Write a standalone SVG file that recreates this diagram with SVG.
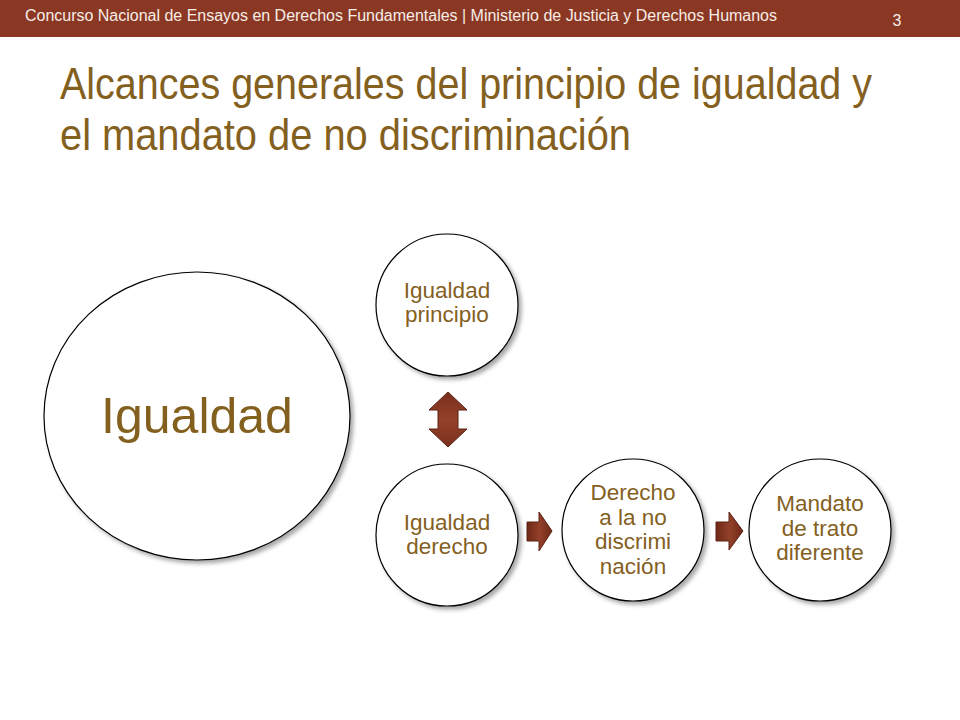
<svg xmlns="http://www.w3.org/2000/svg" width="960" height="720" viewBox="0 0 960 720">
  <defs>
    <filter id="shadow" x="-10%" y="-10%" width="125%" height="125%">
      <feDropShadow dx="3" dy="3" stdDeviation="2" flood-color="#000" flood-opacity="0.35"/>
    </filter>
    <linearGradient id="arrowH" x1="0" y1="0" x2="1" y2="0">
      <stop offset="0" stop-color="#6E2816"/>
      <stop offset="0.5" stop-color="#93402A"/>
      <stop offset="1" stop-color="#6E2816"/>
    </linearGradient>
    <linearGradient id="arrowV" x1="0" y1="0" x2="0" y2="1">
      <stop offset="0" stop-color="#7A2F1C"/>
      <stop offset="0.5" stop-color="#94412A"/>
      <stop offset="1" stop-color="#7A2F1C"/>
    </linearGradient>
  </defs>
  <style>
    .node { fill: #ffffff; stroke: #000000; stroke-width: 1.2; filter: url(#shadow); }
    .lbl { font-family: "Liberation Sans", Arial, sans-serif; fill: #84601F; text-anchor: middle; }
    .small { font-size: 22.5px; }
    .arrow { stroke: #5A2314; stroke-width: 1; }
  </style>

  <rect x="0" y="0" width="960" height="37" fill="#8A3824"/>
  <text x="25" y="21" font-family="'Liberation Sans', Arial, sans-serif" font-size="16" fill="#F7EDE6" textLength="752" lengthAdjust="spacingAndGlyphs">Concurso Nacional de Ensayos en Derechos Fundamentales | Ministerio de Justicia y  Derechos Humanos</text>
  <text x="897" y="26" font-family="'Liberation Sans', Arial, sans-serif" font-size="16" fill="#F7EDE6" text-anchor="middle">3</text>

  <g id="title" font-family="'Liberation Sans', Arial, sans-serif" font-size="44" fill="#84601F">
    <text x="60" y="99" textLength="812" lengthAdjust="spacingAndGlyphs">Alcances generales del principio de igualdad y</text>
    <text x="60" y="150" textLength="571" lengthAdjust="spacingAndGlyphs">el mandato de no discriminación</text>
  </g>

  <g id="connectors">
    <path class="arrow" fill="url(#arrowV)" d="M448,392 L467,410 L458,410 L458,429 L467,429 L448,447 L429,429 L438,429 L438,410 L429,410 Z"/>
    <path class="arrow" fill="url(#arrowH)" d="M527,522 L539,522 L539,512 L552,531 L539,551 L539,541 L527,541 Z"/>
    <path class="arrow" fill="url(#arrowH)" d="M716,522 L729,522 L729,512 L743,531 L729,550 L729,541 L716,541 Z"/>
  </g>

  <g id="igualdad">
    <ellipse class="node" cx="197" cy="416" rx="153" ry="144"/>
    <text class="lbl" x="197" y="433" font-size="50">Igualdad</text>
  </g>

  <g id="igualdad-principio">
    <circle class="node" cx="447" cy="305" r="71"/>
    <text class="lbl small" x="447" y="298">Igualdad</text>
    <text class="lbl small" x="447" y="322">principio</text>
  </g>

  <g id="igualdad-derecho">
    <circle class="node" cx="447" cy="535" r="71"/>
    <text class="lbl small" x="447" y="530">Igualdad</text>
    <text class="lbl small" x="447" y="554">derecho</text>
  </g>

  <g id="derecho-no-discriminacion">
    <circle class="node" cx="633" cy="530" r="71"/>
    <text class="lbl small" x="633" y="500">Derecho</text>
    <text class="lbl small" x="633" y="525">a la no</text>
    <text class="lbl small" x="633" y="549">discrimi</text>
    <text class="lbl small" x="633" y="574">nación</text>
  </g>

  <g id="mandato-trato-diferente">
    <circle class="node" cx="820" cy="530" r="71"/>
    <text class="lbl small" x="820" y="511">Mandato</text>
    <text class="lbl small" x="820" y="536">de trato</text>
    <text class="lbl small" x="820" y="560">diferente</text>
  </g>
</svg>
